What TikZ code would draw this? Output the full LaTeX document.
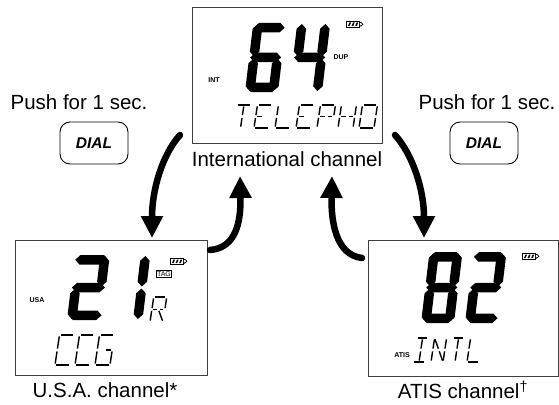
\documentclass[tikz,border=0pt]{standalone}
\usepackage{fontspec}
\setmainfont{Liberation Sans}
\usetikzlibrary{arrows.meta}
% seven-segment digit: #1 x0, #2 bottom y, #3 width, #4 height, #5 thickness, #6 segments
\newcommand\lcddigit[6]{%
 \begin{scope}[shift={(#1,#2)},xslant=0.12,yscale=-1]
  \def\lcW{#3}\def\lcH{#4}\def\lcT{#5}\def\lcG{1.0}%
  \foreach \s in {#6}{\csname lcdd\s\endcsname}%
 \end{scope}}
\newcommand\lcdhseg[1]{\fill (\lcG,#1) -- (\lcG+\lcT/2,#1+\lcT/2) -- (\lcW-\lcG-\lcT/2,#1+\lcT/2) -- (\lcW-\lcG,#1) -- (\lcW-\lcG-\lcT/2,#1-\lcT/2) -- (\lcG+\lcT/2,#1-\lcT/2) -- cycle;}
\newcommand\lcdvseg[3]{\fill (#1,#2+\lcG) -- (#1+\lcT/2,#2+\lcG+\lcT/2) -- (#1+\lcT/2,#3-\lcG-\lcT/2) -- (#1,#3-\lcG) -- (#1-\lcT/2,#3-\lcG-\lcT/2) -- (#1-\lcT/2,#2+\lcG+\lcT/2) -- cycle;}
\def\lcdda{\lcdhseg{\lcH-\lcT/2}}
\def\lcddb{\lcdvseg{\lcW-\lcT/2}{\lcH/2}{\lcH}}
\def\lcddc{\lcdvseg{\lcW-\lcT/2}{0}{\lcH/2}}
\def\lcddd{\lcdhseg{\lcT/2}}
\def\lcdde{\lcdvseg{\lcT/2}{0}{\lcH/2}}
\def\lcddf{\lcdvseg{\lcT/2}{\lcH/2}{\lcH}}
\def\lcddg{\lcdhseg{\lcH/2}}
% fourteen-segment character (thin strokes)
\newcommand\lcdchar[5]{%
 \begin{scope}[shift={(#1,#2)},xslant=0.15,yscale=-1]
  \def\lcW{#3}\def\lcH{#4}%
  \foreach \s in {#5}{\csname lcdc\s\endcsname}%
 \end{scope}}
\def\lcdca{\draw[lcdln] (0,\lcH) -- (\lcW,\lcH);}
\def\lcdcb{\draw[lcdln] (\lcW,\lcH) -- (\lcW,\lcH/2);}
\def\lcdcc{\draw[lcdln] (\lcW,\lcH/2) -- (\lcW,0);}
\def\lcdcd{\draw[lcdln] (0,0) -- (\lcW,0);}
\def\lcdce{\draw[lcdln] (0,\lcH/2) -- (0,0);}
\def\lcdcf{\draw[lcdln] (0,\lcH) -- (0,\lcH/2);}
\def\lcdcg{\draw[lcdln] (0,\lcH/2) -- (\lcW/2,\lcH/2);}
\def\lcdcq{\draw[lcdln] (\lcW/2,\lcH/2) -- (\lcW,\lcH/2);}
\def\lcdch{\draw[lcdln] (0,\lcH) -- (\lcW/2,\lcH/2);}
\def\lcdci{\draw[lcdln] (\lcW/2,\lcH) -- (\lcW/2,\lcH/2);}
\def\lcdcl{\draw[lcdln] (\lcW/2,\lcH/2) -- (\lcW/2,0);}
\def\lcdcm{\draw[lcdln] (\lcW/2,\lcH/2) -- (\lcW,0);}
% battery icon, top-left corner
\newcommand\lcdbatt[2]{%
 \begin{scope}[shift={(#1,#2)}]
  \draw[line width=0.8pt] (0,0) rectangle (13,6.5);
  \foreach \k in {0,1,2}{\fill (2+3.6*\k,5) -- (3.4+3.6*\k,1.5) -- (5+3.6*\k,1.5) -- (3.6+3.6*\k,5) -- cycle;}
  \fill (13,1) -- (15,1) -- (17.5,3.25) -- (15,5.5) -- (13,5.5) -- cycle;
  \fill[white] (13.8,2.2) -- (15.2,2.2) -- (16,3.25) -- (15.2,4.3) -- (13.8,4.3) -- cycle;
 \end{scope}}
\begin{document}
\begin{tikzpicture}[x=1pt,y=-1pt,
  screen/.style={draw=black!75,line width=0.9pt,inner sep=0pt},
  caption/.style={font=\fontsize{20.5}{24}\selectfont,inner sep=0pt},
  push/.style={font=\fontsize{20.5}{24}\selectfont,inner sep=0pt},
  dialbtn/.style={draw,line width=0.9pt,rounded corners=10pt,minimum width=68pt,minimum height=42pt,inner sep=0pt,font=\fontsize{15.5}{18}\selectfont\bfseries\itshape},
  lcdlbl/.style={font=\fontsize{7}{8}\selectfont\bfseries,inner sep=0pt},
  lcdln/.style={line width=1.4pt,shorten <=1.4pt,shorten >=1.4pt},
  bigarrow/.style={line width=6.5pt,line cap=round,-{Triangle[width=21pt,length=22pt]}}]
\useasboundingbox (0,0) rectangle (559,404);
% screens
\node[screen,minimum width=190pt,minimum height=136pt] (top) at (287,75) {};
\node[screen,minimum width=192pt,minimum height=135pt] (usa) at (111,307.5) {};
\node[screen,minimum width=190pt,minimum height=136pt] (atis) at (463,308) {};
% captions
\node[caption] (topcap) at (287,159) {International channel};
\node[caption] (usacap) at (105,390) {U.S.A. channel*};
\node[caption] (atiscap) at (463,390) {ATIS channel\textsuperscript{†}};
% push instructions
\node[push] (pushl) at (79,102) {Push for 1 sec.};
\node[push] (pushr) at (487,102) {Push for 1 sec.};
\node[dialbtn] (diall) at (94,143) {DIAL};
\node[dialbtn] (dialr) at (484,143) {DIAL};
% top display
\node[lcdlbl] (intl) at (214,80) {INT};
\node[lcdlbl] (dup) at (341,57) {DUP};
\lcdbatt{346}{21}
\lcddigit{245}{92}{33}{69}{9.5}{a,c,d,e,f,g}
\lcddigit{289}{92}{33}{69}{9.5}{b,c,f,g}
\lcdchar{233}{128}{15}{23}{a,i,l}
\lcdchar{254}{128}{15}{23}{a,f,e,d,g}
\lcdchar{275}{128}{15}{23}{f,e,d}
\lcdchar{296}{128}{15}{23}{a,f,e,d,g}
\lcdchar{317}{128}{15}{23}{a,b,f,e,g,q}
\lcdchar{338}{128}{15}{23}{f,e,b,c,g,q}
\lcdchar{359}{128}{15}{23}{a,b,c,d,e,f}
% USA display
\node[lcdlbl] (usal) at (37,300) {USA};
\lcdbatt{170}{258}
\node[draw,line width=0.7pt,inner sep=0.8pt,font=\fontsize{7}{8}\selectfont] (tag) at (164,274) {TAG};
\lcddigit{67}{320}{35}{65}{9.5}{a,b,g,e,d}
\lcddigit{133}{320}{9.5}{65}{9.5}{b,c}
\lcdchar{150}{322}{13}{25}{a,b,f,e,g,q,m}
\lcdchar{55}{365}{15}{30}{a,f,e,d}
\lcdchar{75}{365}{15}{30}{a,f,e,d}
\lcdchar{95}{365}{15}{30}{a,f,e,d,c,q}
% ATIS display
\node[lcdlbl] (atisl) at (402,355) {ATIS};
\lcdbatt{522}{253}
\lcddigit{421}{323}{33}{71}{9.5}{a,b,c,d,e,f,g}
\lcddigit{465}{323}{33}{71}{9.5}{a,b,g,e,d}
\lcdchar{413}{362}{12}{24}{a,i,l,d}
\lcdchar{431}{362}{12}{24}{f,e,b,c,h,m}
\lcdchar{449}{362}{12}{24}{a,i,l}
\lcdchar{467}{362}{12}{24}{f,e,d}
% arrows
\coordinate (a1s) at (180,135);
\coordinate (a1e) at (152,238);
\coordinate (a2s) at (210,250);
\coordinate (a2e) at (240,176);
\coordinate (a3s) at (362,258);
\coordinate (a3e) at (332,176);
\coordinate (a4s) at (395,135);
\coordinate (a4e) at (424,238);
\draw[bigarrow] (a1s) .. controls (162,155) and (152,190) .. (a1e);
\draw[bigarrow] (a2s) .. controls (236,248) and (241,222) .. (a2e);
\draw[bigarrow] (a3s) .. controls (336,255) and (331,222) .. (a3e);
\draw[bigarrow] (a4s) .. controls (413,155) and (424,190) .. (a4e);
\end{tikzpicture}
\end{document}
